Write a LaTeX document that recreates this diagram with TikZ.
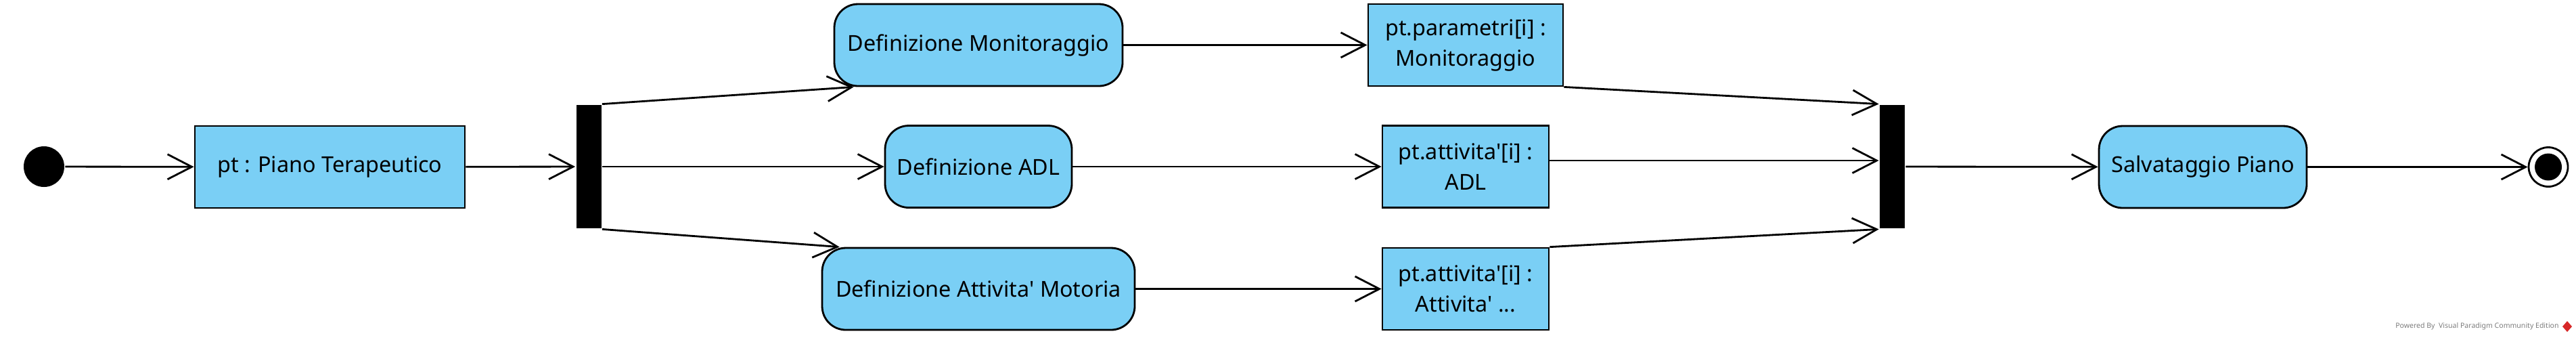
\documentclass[tikz,border=0pt]{standalone}
\usepackage{fontspec}
\setmainfont{Noto Sans}
\usetikzlibrary{arrows.meta}
\definecolor{actblue}{RGB}{122,207,245}
\definecolor{vpgray}{RGB}{125,125,125}
\definecolor{vpred}{RGB}{215,40,40}
\newcommand{\apos}{\textquotesingle}

\begin{document}
\begin{tikzpicture}[
    action/.style={draw, fill=actblue, rounded corners=3.5mm, inner sep=0pt,
      minimum height=1.21cm, font=\fontsize{9.2}{12.8}\selectfont},
    object/.style={draw, fill=actblue, inner sep=0pt, align=center,
      minimum height=1.21cm, font=\fontsize{9.2}{12.8}\selectfont},
    bar/.style={fill=black, inner sep=0pt, minimum width=0.37cm, minimum height=1.82cm},
    initial/.style={circle, fill=black, inner sep=0pt, minimum size=0.6cm},
    final/.style={circle, draw, fill=white, inner sep=0pt, minimum size=0.58cm,
      path picture={\fill[black] (path picture bounding box.center) circle (0.2);}},
    >={Straight Barb[length=3.6mm,width=3.7mm]},
    line width=0.8pt
  ]
  \useasboundingbox (0,0) rectangle (38.07,-4.98);

  % Start and plan object
  \node[initial] (start) at (0.65,-2.46) {};
  \node[object, minimum width=3.99cm] (pt) at (4.875,-2.465) {pt : Piano Terapeutico};
  \node[bar] (fork) at (8.70,-2.46) {};

  % Actions
  \node[action, minimum width=4.26cm] (mon) at (14.46,-0.665) {Definizione Monitoraggio};
  \node[action, minimum width=2.76cm] (adl) at (14.46,-2.46) {Definizione ADL};
  \node[action, minimum width=4.62cm] (mot) at (14.46,-4.265) {Definizione Attivita\apos{} Motoria};

  % Objects
  \node[object, minimum width=2.88cm] (par) at (21.66,-0.665) {pt.parametri[i] :\\Monitoraggio};
  \node[object, minimum width=2.46cm] (oadl) at (21.66,-2.46) {pt.attivita\apos[i] :\\ADL};
  \node[object, minimum width=2.46cm] (omot) at (21.66,-4.265) {pt.attivita\apos[i] :\\Attivita\apos{} ...};

  % Join, save and end
  \node[bar] (join) at (27.965,-2.46) {};
  \node[action, minimum width=3.07cm] (save) at (32.555,-2.465) {Salvataggio Piano};
  \node[final] (end) at (37.66,-2.465) {};

  % Flows
  \draw[->] (start) -- (pt);
  \draw[->] (pt) -- (fork);
  \draw[->] (fork.north east) -- ([xshift=3mm]mon.south west);
  \draw[->] (fork) -- (adl);
  \draw[->] (fork.south east) -- ([xshift=2.7mm]mot.north west);
  \draw[->] (mon) -- (par);
  \draw[->] (adl) -- (oadl);
  \draw[->] (mot) -- (omot);
  \draw[->] (par.south east) -- (join.north west);
  \draw[->] ([yshift=0.9mm]oadl.east) -- ([yshift=0.9mm]oadl.east -| join.west);
  \draw[->] (omot.north east) -- (join.south west);
  \draw[->] (join) -- (save);
  \draw[->] (save) -- (end);

  % Watermark
  \node[anchor=east, inner sep=0pt, text=vpgray, font=\fontsize{3}{3}\selectfont] (wm) at (37.83,-4.82) {Powered By\ \ Visual Paradigm Community Edition};
  \fill[vpred, line width=0pt] (37.94,-4.74) -- (38.01,-4.82) -- (37.94,-4.90) -- (37.87,-4.82) -- cycle;
\end{tikzpicture}
\end{document}
